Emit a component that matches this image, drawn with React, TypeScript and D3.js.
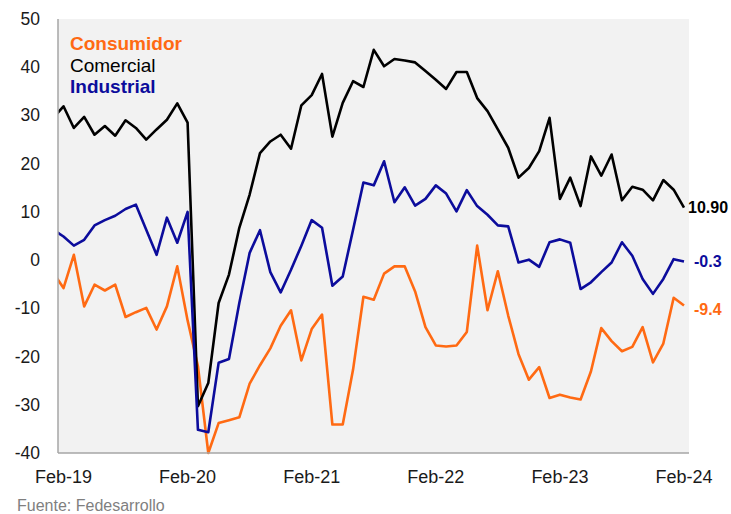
import { scaleLinear, scalePoint, line, timeMonth, timeFormat } from "d3";

// Jan-19 is only partly visible at the left edge (clipped by the plot area)
const months = timeMonth
    .range(new Date(2019, 0, 1), new Date(2024, 2, 1))
    .map((d) => timeFormat("%b-%y")(d));

const tickLabels = ["Feb-19", "Feb-20", "Feb-21", "Feb-22", "Feb-23", "Feb-24"];
const yTicks = [-40, -30, -20, -10, 0, 10, 20, 30, 40, 50];

const comercial = [
    29.5, 31.9, 27.4, 29.7, 26.0, 27.8, 25.8, 29.0, 27.4, 25.0, 27.1, 29.1, 32.5,
    28.5, -30.3, -25.5, -8.9, -3.0, 6.7, 13.6, 22.2, 24.6, 26.0, 23.1, 32.1, 34.2,
    38.6, 25.6, 32.6, 37.1, 35.9, 43.6, 40.2, 41.7, 41.4, 41.0, 39.2, 37.4, 35.5,
    39.0, 39.0, 33.6, 30.9, 27.1, 23.3, 17.1, 19.1, 22.6, 29.5, 12.7, 17.1, 11.2,
    21.5, 17.5, 21.9, 12.4, 15.2, 14.6, 12.4, 16.6, 14.6, 10.9,
];

const industrial = [
    6.3, 4.9, 3.0, 4.2, 7.2, 8.3, 9.2, 10.6, 11.5, 6.3, 1.1, 8.8, 3.6, 10.0,
    -35.2, -35.7, -21.3, -20.5, -8.9, 1.5, 6.2, -2.5, -6.7, -2.0, 3.0, 8.3, 6.7,
    -5.3, -3.4, 6.3, 16.1, 15.5, 20.5, 12.0, 15.1, 11.3, 12.7, 15.5, 13.8, 10.1,
    14.5, 11.2, 9.4, 7.2, 7.0, -0.5, 0.1, -1.4, 3.7, 4.3, 3.6, -6.0, -4.6, -2.5,
    -0.5, 3.7, 0.9, -3.9, -7.0, -3.9, 0.2, -0.3,
];

const consumidor = [
    -2.6, -5.8, 1.1, -9.6, -5.1, -6.3, -5.1, -11.8, -10.8, -9.9, -14.4, -9.6,
    -1.3, -12.5, -22, -40, -33.8, -33.2, -32.6, -25.6, -21.8, -18.3, -13.6,
    -10.4, -20.8, -14.3, -11.3, -34.1, -34.1, -22.7, -7.6, -8.2, -2.8, -1.3,
    -1.3, -6.5, -13.9, -17.7, -17.9, -17.7, -14.9, 3.0, -10.4, -2.3, -11.5,
    -19.5, -24.8, -22.2, -28.6, -27.9, -28.5, -28.9, -23.1, -14.1, -16.8, -18.9,
    -18.0, -13.9, -21.2, -17.3, -7.8, -9.4,
];

const endLabels = ["10.90", "-0.3", "-9.4"];

const FONT = "'Liberation Sans', Arial, sans-serif";
const ORANGE = "#ff6a13";
const BLUE = "#0c0c9c";
const BLACK = "#000000";

interface SeriesDef {
    name: string;
    values: number[];
    color: string;
    end: string;
}

const series: SeriesDef[] = [
    { name: "Consumidor", values: consumidor, color: ORANGE, end: endLabels[2] },
    { name: "Comercial", values: comercial, color: BLACK, end: endLabels[0] },
    { name: "Industrial", values: industrial, color: BLUE, end: endLabels[1] },
];

export default function App() {
    const width = 731;
    const height = 514;
    const plot = { left: 58, right: 689, top: 19, bottom: 453 };

    const x = scalePoint<string>()
        .domain(months)
        .range([53.16, 684]);
    const y = scaleLinear().domain([-40, 50]).range([plot.bottom, plot.top]);

    const path = line<number>()
        .x((_, i) => x(months[i]) ?? 0)
        .y((d) => y(d));

    const last = months.length - 1;

    return (
        <svg
            width={width}
            height={height}
            style={{ position: "absolute", left: 0, top: 0, background: "#fff" }}
            fontFamily={FONT}
        >
            <defs>
                <clipPath id="plot-clip">
                    <rect
                        x={plot.left}
                        y={plot.top - 2}
                        width={plot.right - plot.left}
                        height={plot.bottom - plot.top + 4}
                    />
                </clipPath>
            </defs>
            <rect
                x={plot.left}
                y={plot.top}
                width={plot.right - plot.left}
                height={plot.bottom - plot.top}
                fill="#f2f2f2"
            />
            <g clipPath="url(#plot-clip)">
                {series.map((s) => (
                    <path
                        key={s.name}
                        d={path(s.values) ?? ""}
                        fill="none"
                        stroke={s.color}
                        strokeWidth={2.6}
                        strokeLinejoin="round"
                    />
                ))}
            </g>
            <line
                x1={plot.left}
                x2={plot.left}
                y1={plot.top}
                y2={plot.bottom}
                stroke="#a6a6a6"
                strokeWidth={1.5}
            />
            <line
                x1={plot.left}
                x2={plot.right}
                y1={plot.bottom}
                y2={plot.bottom}
                stroke="#a6a6a6"
                strokeWidth={1.5}
            />
            {yTicks.map((t) => (
                <text
                    key={`y-${t}`}
                    x={40}
                    y={y(t)}
                    textAnchor="end"
                    dominantBaseline="central"
                    fontSize={17.5}
                    fill="#1a1a1a"
                >
                    {t}
                </text>
            ))}
            {tickLabels.map((t) => (
                <text
                    key={`x-${t}`}
                    x={x(t)}
                    y={483}
                    textAnchor="middle"
                    fontSize={18}
                    fill="#1a1a1a"
                >
                    {t}
                </text>
            ))}
            {series.map((s, i) => (
                <text
                    key={`leg-${s.name}`}
                    x={70}
                    y={50 + i * 21.5}
                    fontSize={19}
                    fontWeight={s.name === "Comercial" ? "normal" : "bold"}
                    fill={s.color}
                >
                    {s.name}
                </text>
            ))}
            {series.map((s) => (
                <text
                    key={`end-${s.name}`}
                    x={(x(months[last]) ?? 0) + (s.name === "Comercial" ? 4 : 10)}
                    y={y(s.values[last]) + (s.name === "Consumidor" ? 4 : 0)}
                    dominantBaseline="central"
                    fontSize={16}
                    fontWeight="bold"
                    fill={s.color}
                >
                    {s.end}
                </text>
            ))}
            <text x={17} y={511} fontSize={16} fill="#7f7f7f">
                Fuente: Fedesarrollo
            </text>
        </svg>
    );
}
